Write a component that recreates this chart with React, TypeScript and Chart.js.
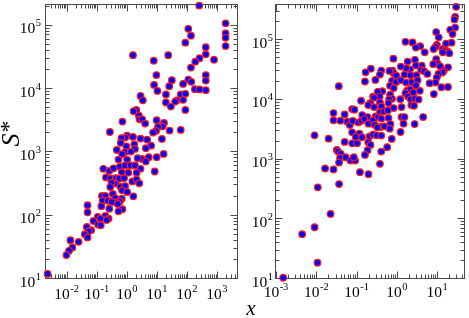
import React, { useEffect, useRef } from "react";
import { Chart, registerables } from "chart.js";
Chart.register(...registerables);

// ---------- data (left panel) ----------
const leftX = [
  256, 1930, 1930, 1930, 1930, 111, 136, 88.5, 424, 424, 796, 262, 189, 136, 1.6, 23.8, 7.85, 9.6, 31.5, 8.05,
  25.7, 10.4, 111, 140, 424, 424, 74.3, 184, 262, 424, 20.0, 62.2, 88.5, 74.3, 45.9, 40.5, 20.0, 29.2, 88.5, 2.86,
  3.41, 2.06, 1.68, 2.52, 2.65, 3.24, 4.07, 0.713, 9.84, 17.2, 15.5, 10.9, 9.36, 7.46, 26.4, 62.2, 0.273, 1.02, 0.873, 0.661,
  1.6, 2.86, 4.73, 14.7,
  1.77, 0.628, 6.41, 4.28, 1.86, 0.966, 0.464, 0.873, 0.695, 1.37, 16.7, 9.84, 5.37, 3.16, 4.28, 2.28, 0.527, 1.02, 0.165, 0.26,
  0.361, 0.582, 0.873, 1.34, 1.86, 2.86, 0.678, 1.12, 2.11, 8.47, 0.202, 0.287, 0.43, 0.554, 0.809, 1.52, 2.11, 2.58, 0.409, 0.31,
  0.612, 0.873, 0.28, 0.695, 1.02, 0.343, 1.64, 0.149, 0.192, 0.157, 0.235, 0.409, 0.678, 0.582, 0.43, 0.318, 0.0491, 0.142, 0.26, 0.501,
  0.713, 0.527, 0.0491, 0.192, 0.247, 0.212, 0.107, 0.131, 0.0773, 0.11, 0.135, 0.0467, 0.0648, 0.0543, 0.0401, 0.0491, 0.0132, 0.0248, 0.0154, 0.0119,
  0.00975, 0.00231,
];
const leftY = [
  2.0e5, 1.05e5, 7.3e4, 6.2e4, 4.6e4, 8.6e4, 6.7e4, 5.2e4, 4.4e4, 3.4e4, 2.8e4, 2.95e4, 2.6e4, 2.1e4, 3.3e4, 3.3e4, 2.7e4, 1.6e4, 1.33e4, 1.12e4,
  1.07e4, 9000, 1.36e4, 1.25e4, 1.6e4, 1.31e4, 1.16e4, 9600, 9500, 9250, 7900, 7900, 8100, 6500, 6400, 6100, 5900, 5100, 4500, 7500,
  6400, 4500, 4300, 3650, 3200, 3200, 2740, 2950, 3100, 2800, 2480, 2430, 2100, 1980, 2130, 2180, 2020, 1770, 1650, 1610,
  1690, 1590, 1530, 1570,
  1290, 1360, 1230, 1120, 1090, 1200, 1050, 975, 900, 990, 910, 810, 810, 760, 690, 780, 740, 740, 530, 490,
  540, 570, 600, 600, 600, 530, 470, 460, 460, 480, 387, 369, 378, 369, 378, 335, 360, 312, 312, 319,
  276, 283, 273, 242, 228, 212, 195, 197, 197, 168, 166, 183, 179, 162, 155, 159, 141, 136, 124, 148,
  122, 113, 109, 95.5, 86.7, 82.6, 92, 86.7, 79.6, 69.8, 68.1, 64.1, 56.9, 54.8, 49.2, 43.6, 39.5, 37.2, 30.3, 26.9,
  23.0, 11.6,
];

// ---------- data (right panel) ----------
const rightX = [
  29.4, 27.8, 26.8, 27.8, 21.0, 24.0, 9.42, 10.9, 22.6, 16.5, 9.77, 9.07, 8.11, 13.7, 15.6, 18.1, 19.9, 13.7, 1.63, 2.45,
  3.78, 2.96, 4.9, 9.42, 10.1, 7.96, 11.8, 18.5, 14.5, 13.4, 10.7, 9.77, 9.07, 6.49, 12.7, 18.5, 8.26, 0.817, 1.85, 2.8,
  2.96, 4.14, 3.99, 4.72, 5.69, 2.11, 1.69, 1.25, 0.771, 0.832, 0.652, 0.966, 1.54, 2.19, 3.07, 0.408, 0.379, 0.225, 0.167, 0.292,
  0.161, 0.0361, 0.757, 0.966, 1.25, 1.69, 2.32, 3.25, 2.96, 3.7, 1.79, 2.15, 1.63, 2.55, 0.677, 0.832, 0.433, 0.333, 0.256, 0.677,
  0.757, 0.64, 0.372, 0.271, 0.217, 0.194, 0.129, 1.21, 1.89, 2.19, 2.8, 3.44, 2.28, 1.3, 0.832,
  0.379, 0.617, 0.408, 2.65, 0.271,
  0.0776, 0.0883, 0.0267, 0.0505, 0.138, 0.187, 0.298, 0.379, 0.474, 0.594, 0.339, 0.408, 0.617, 1.3, 1.54, 4.46, 1.46, 2.75, 0.0267, 0.0396,
  0.0586, 0.0681, 0.0805, 0.111, 0.133, 0.155, 0.197, 0.252, 0.394, 0.493, 0.69, 0.664, 0.281, 0.327, 0.0776, 0.117, 0.0953, 0.136, 0.209, 0.256,
  0.315, 0.408, 1.23, 0.743, 0.00906, 0.0202, 0.0505, 0.0776, 0.103, 0.194, 0.221, 0.187, 0.573, 0.408, 0.0323, 0.0348, 0.0404, 0.161, 0.0389, 0.0535,
  0.0706, 0.0918, 0.0851, 0.0367, 0.379, 0.0165, 0.0267, 0.121, 0.197, 0.0367, 0.0109, 0.0226, 0.00906, 0.00446, 0.0107, 0.00151,
];
const rightY = [
  3.46e5, 2.35e5, 2.13e5, 1.56e5, 1.43e5, 1.21e5, 1.31e5, 1.07e5, 8.7e4, 8.4e4, 8.0e4, 7.4e4, 6.8e4, 6.8e4, 6.5e4, 6.2e4, 5.8e4, 6.0e4, 9.0e4, 8.8e4,
  7.6e4, 7.2e4, 6.0e4, 4.6e4, 3.9e4, 3.8e4, 3.5e4, 3.37e4, 2.93e4, 2.75e4, 2.61e4, 2.27e4, 1.87e4, 1.82e4, 1.56e4, 1.58e4, 1.2e4, 4.7e4, 4.2e4, 4.5e4,
  3.6e4, 3.6e4, 3.04e4, 2.89e4, 2.61e4, 3.12e4, 3.24e4, 3.46e4, 2.97e4, 2.68e4, 2.93e4, 2.45e4, 2.54e4, 2.48e4, 2.48e4, 2.97e4, 2.54e4, 3.2e4, 2.78e4, 2.07e4,
  1.95e4, 1.63e4, 2.0e4, 1.92e4, 2.05e4, 1.87e4, 1.9e4, 2.05e4, 1.67e4, 1.36e4, 1.38e4, 1.43e4, 1.24e4, 1.28e4, 1.65e4, 1.51e4, 1.34e4, 1.31e4, 1.09e4, 1.17e4,
  1.0e4, 9750, 1.09e4, 1.04e4, 8470, 7840, 9270, 9870, 1.09e4, 9870, 1.01e4, 9750, 7840, 7260, 6990,
  8690, 8470, 7450, 7640, 7260,
  6730, 6560, 5770, 5480, 5350, 4950, 5080, 5920, 6150, 6390, 4890, 4640, 4760, 4950, 4950, 4950, 3830, 3780, 4360, 4300,
  4140, 3640, 4250, 4030, 4300, 4580, 3830, 4360, 3370, 3460, 3780, 3160, 3690, 3330, 2750, 2610, 2300, 2270, 2350, 2510,
  2450, 2420, 2780, 2130, 2450, 2150, 1900, 1800, 1800, 1870, 1690, 1380, 1550, 1310, 1390, 1310, 1200, 1150, 1030, 1050,
  926, 926, 1050, 858, 815, 681, 656, 592, 548, 373, 329, 118, 70.8, 54.1, 18.0, 10.1,
];

// ---------- tick label exponents ----------
const leftXTicks = [-2, -1, 0, 1, 2, 3];
const leftYTicks = [1, 2, 3, 4, 5];
const rightXTicks = [-3, -2, -1, 0, 1];
const rightYTicks = [1, 2, 3, 4, 5];

const SERIF = '"Liberation Serif", "DejaVu Serif", "Times New Roman", serif';

function drawPow(ctx: CanvasRenderingContext2D, exp: number, x: number, baseline: number, align: "center" | "right") {
  ctx.font = `15.5px ${SERIF}`;
  const wb = ctx.measureText("10").width;
  const es = String(exp);
  ctx.font = `10.5px ${SERIF}`;
  const we = ctx.measureText(es).width;
  const total = wb + 0.5 + we;
  const x0 = align === "center" ? x - total / 2 : x - total;
  ctx.textAlign = "left";
  ctx.textBaseline = "alphabetic";
  ctx.fillStyle = "#000";
  ctx.font = `15.5px ${SERIF}`;
  ctx.fillText("10", x0, baseline);
  ctx.font = `10.5px ${SERIF}`;
  ctx.fillText(es, x0 + wb + 0.5, baseline - 7);
}

type FrameCfg = {
  xTicks: number[];
  yTicks: number[];
  xBaseline: number;
  yGap: number;
  title: "S" | "x";
};

function makeFrame(cfg: FrameCfg) {
  return {
    id: "frame",
    beforeDatasetsDraw(chart: any) {
      const { ctx, chartArea: ca, scales } = chart;
      const xs = scales.x;
      const ys = scales.y;
      const L = Math.round(ca.left) - 0.5;
      const R = Math.round(ca.right) + 0.5;
      const T = Math.round(ca.top) - 0.5;
      const B = Math.round(ca.bottom) + 0.5;
      ctx.save();
      ctx.strokeStyle = "#4a4a4a";
      ctx.lineWidth = 1;
      ctx.strokeRect(L, T, R - L, B - T);
      ctx.beginPath();
      const x0 = Math.floor(Math.log10(xs.min));
      const x1 = Math.ceil(Math.log10(xs.max));
      for (let k = x0; k <= x1; k++) {
        for (let m = 1; m <= 9; m++) {
          const v = m * Math.pow(10, k);
          if (v < xs.min * 0.9999 || v > xs.max * 1.0001) continue;
          const px = Math.round(xs.getPixelForValue(v)) + 0.5;
          const len = m === 1 ? 7 : 4;
          ctx.moveTo(px, B);
          ctx.lineTo(px, B - len);
          ctx.moveTo(px, T);
          ctx.lineTo(px, T + len);
        }
      }
      const y0 = Math.floor(Math.log10(ys.min));
      const y1 = Math.ceil(Math.log10(ys.max));
      for (let k = y0; k <= y1; k++) {
        for (let m = 1; m <= 9; m++) {
          const v = m * Math.pow(10, k);
          if (v < ys.min * 0.9999 || v > ys.max * 1.0001) continue;
          const py = Math.round(ys.getPixelForValue(v)) + 0.5;
          const len = m === 1 ? 7 : 4;
          ctx.moveTo(L, py);
          ctx.lineTo(L + len, py);
          ctx.moveTo(R, py);
          ctx.lineTo(R - len, py);
        }
      }
      ctx.stroke();
      ctx.restore();
    },
    afterDraw(chart: any) {
      const { ctx, chartArea: ca, scales } = chart;
      ctx.save();
      for (const e of cfg.xTicks) {
        const px = scales.x.getPixelForValue(Math.pow(10, e));
        drawPow(ctx, e, px, cfg.xBaseline, "center");
      }
      for (const e of cfg.yTicks) {
        const py = scales.y.getPixelForValue(Math.pow(10, e));
        drawPow(ctx, e, ca.left - cfg.yGap, py + 8.5, "right");
      }
      ctx.fillStyle = "#000";
      if (cfg.title === "S") {
        ctx.translate(19, 134);
        ctx.rotate(-Math.PI / 2);
        ctx.font = `italic 26px ${SERIF}`;
        const ws = ctx.measureText("S").width;
        ctx.font = `24px ${SERIF}`;
        const wa = ctx.measureText("*").width;
        const start = -(ws + wa) / 2;
        ctx.textAlign = "left";
        ctx.textBaseline = "alphabetic";
        ctx.font = `italic 26px ${SERIF}`;
        ctx.fillText("S", start, 0);
        ctx.font = `24px ${SERIF}`;
        ctx.fillText("*", start + ws + 1, -3);
      } else {
        ctx.font = `italic 21px ${SERIF}`;
        ctx.textAlign = "center";
        ctx.textBaseline = "alphabetic";
        ctx.fillText("x", 9, 315);
      }
      ctx.restore();
    },
  };
}

function Panel(props: {
  xs: number[];
  ys: number[];
  xMin: number;
  xMax: number;
  yMin: number;
  yMax: number;
  padding: { left: number; right: number; top: number; bottom: number };
  cfg: FrameCfg;
  left: number;
  width: number;
}) {
  const ref = useRef<HTMLCanvasElement | null>(null);
  useEffect(() => {
    if (!ref.current) return;
    const points = props.xs.map((x, i) => ({ x, y: props.ys[i] }));
    const chart = new Chart(ref.current, {
      type: "scatter",
      data: {
        datasets: [
          {
            data: points,
            pointRadius: 3.3,
            pointBorderWidth: 1.2,
            backgroundColor: "#0000ff",
            borderColor: "#ff1a1a",
            clip: false as any,
          },
        ],
      },
      options: {
        responsive: false,
        animation: false,
        events: [],
        devicePixelRatio: 1,
        layout: { padding: props.padding },
        plugins: { legend: { display: false }, tooltip: { enabled: false } },
        scales: {
          x: { type: "logarithmic", min: props.xMin, max: props.xMax, display: false },
          y: { type: "logarithmic", min: props.yMin, max: props.yMax, display: false },
        },
      },
      plugins: [makeFrame(props.cfg) as any],
    });
    return () => chart.destroy();
  }, []);
  return (
    <canvas
      ref={ref}
      width={props.width}
      height={318}
      style={{ position: "absolute", left: props.left, top: 0, width: props.width, height: 318 }}
    />
  );
}

export default function App() {
  return (
    <div style={{ position: "fixed", left: 0, top: 0, width: 469, height: 318, background: "#fff", overflow: "hidden" }}>
      <Panel
        xs={leftX}
        ys={leftY}
        xMin={0.00204}
        xMax={4560}
        yMin={10}
        yMax={2.03e5}
        padding={{ left: 46, right: 3, top: 4, bottom: 40 }}
        cfg={{ xTicks: leftXTicks, yTicks: leftYTicks, xBaseline: 299, yGap: 5, title: "S" }}
        left={0}
        width={242}
      />
      <Panel
        xs={rightX}
        ys={rightY}
        xMin={0.001}
        xMax={45.6}
        yMin={10}
        yMax={3.69e5}
        padding={{ left: 34, right: 1.5, top: 4, bottom: 40 }}
        cfg={{ xTicks: rightXTicks, yTicks: rightYTicks, xBaseline: 297, yGap: 3, title: "x" }}
        left={242}
        width={227}
      />
    </div>
  );
}
